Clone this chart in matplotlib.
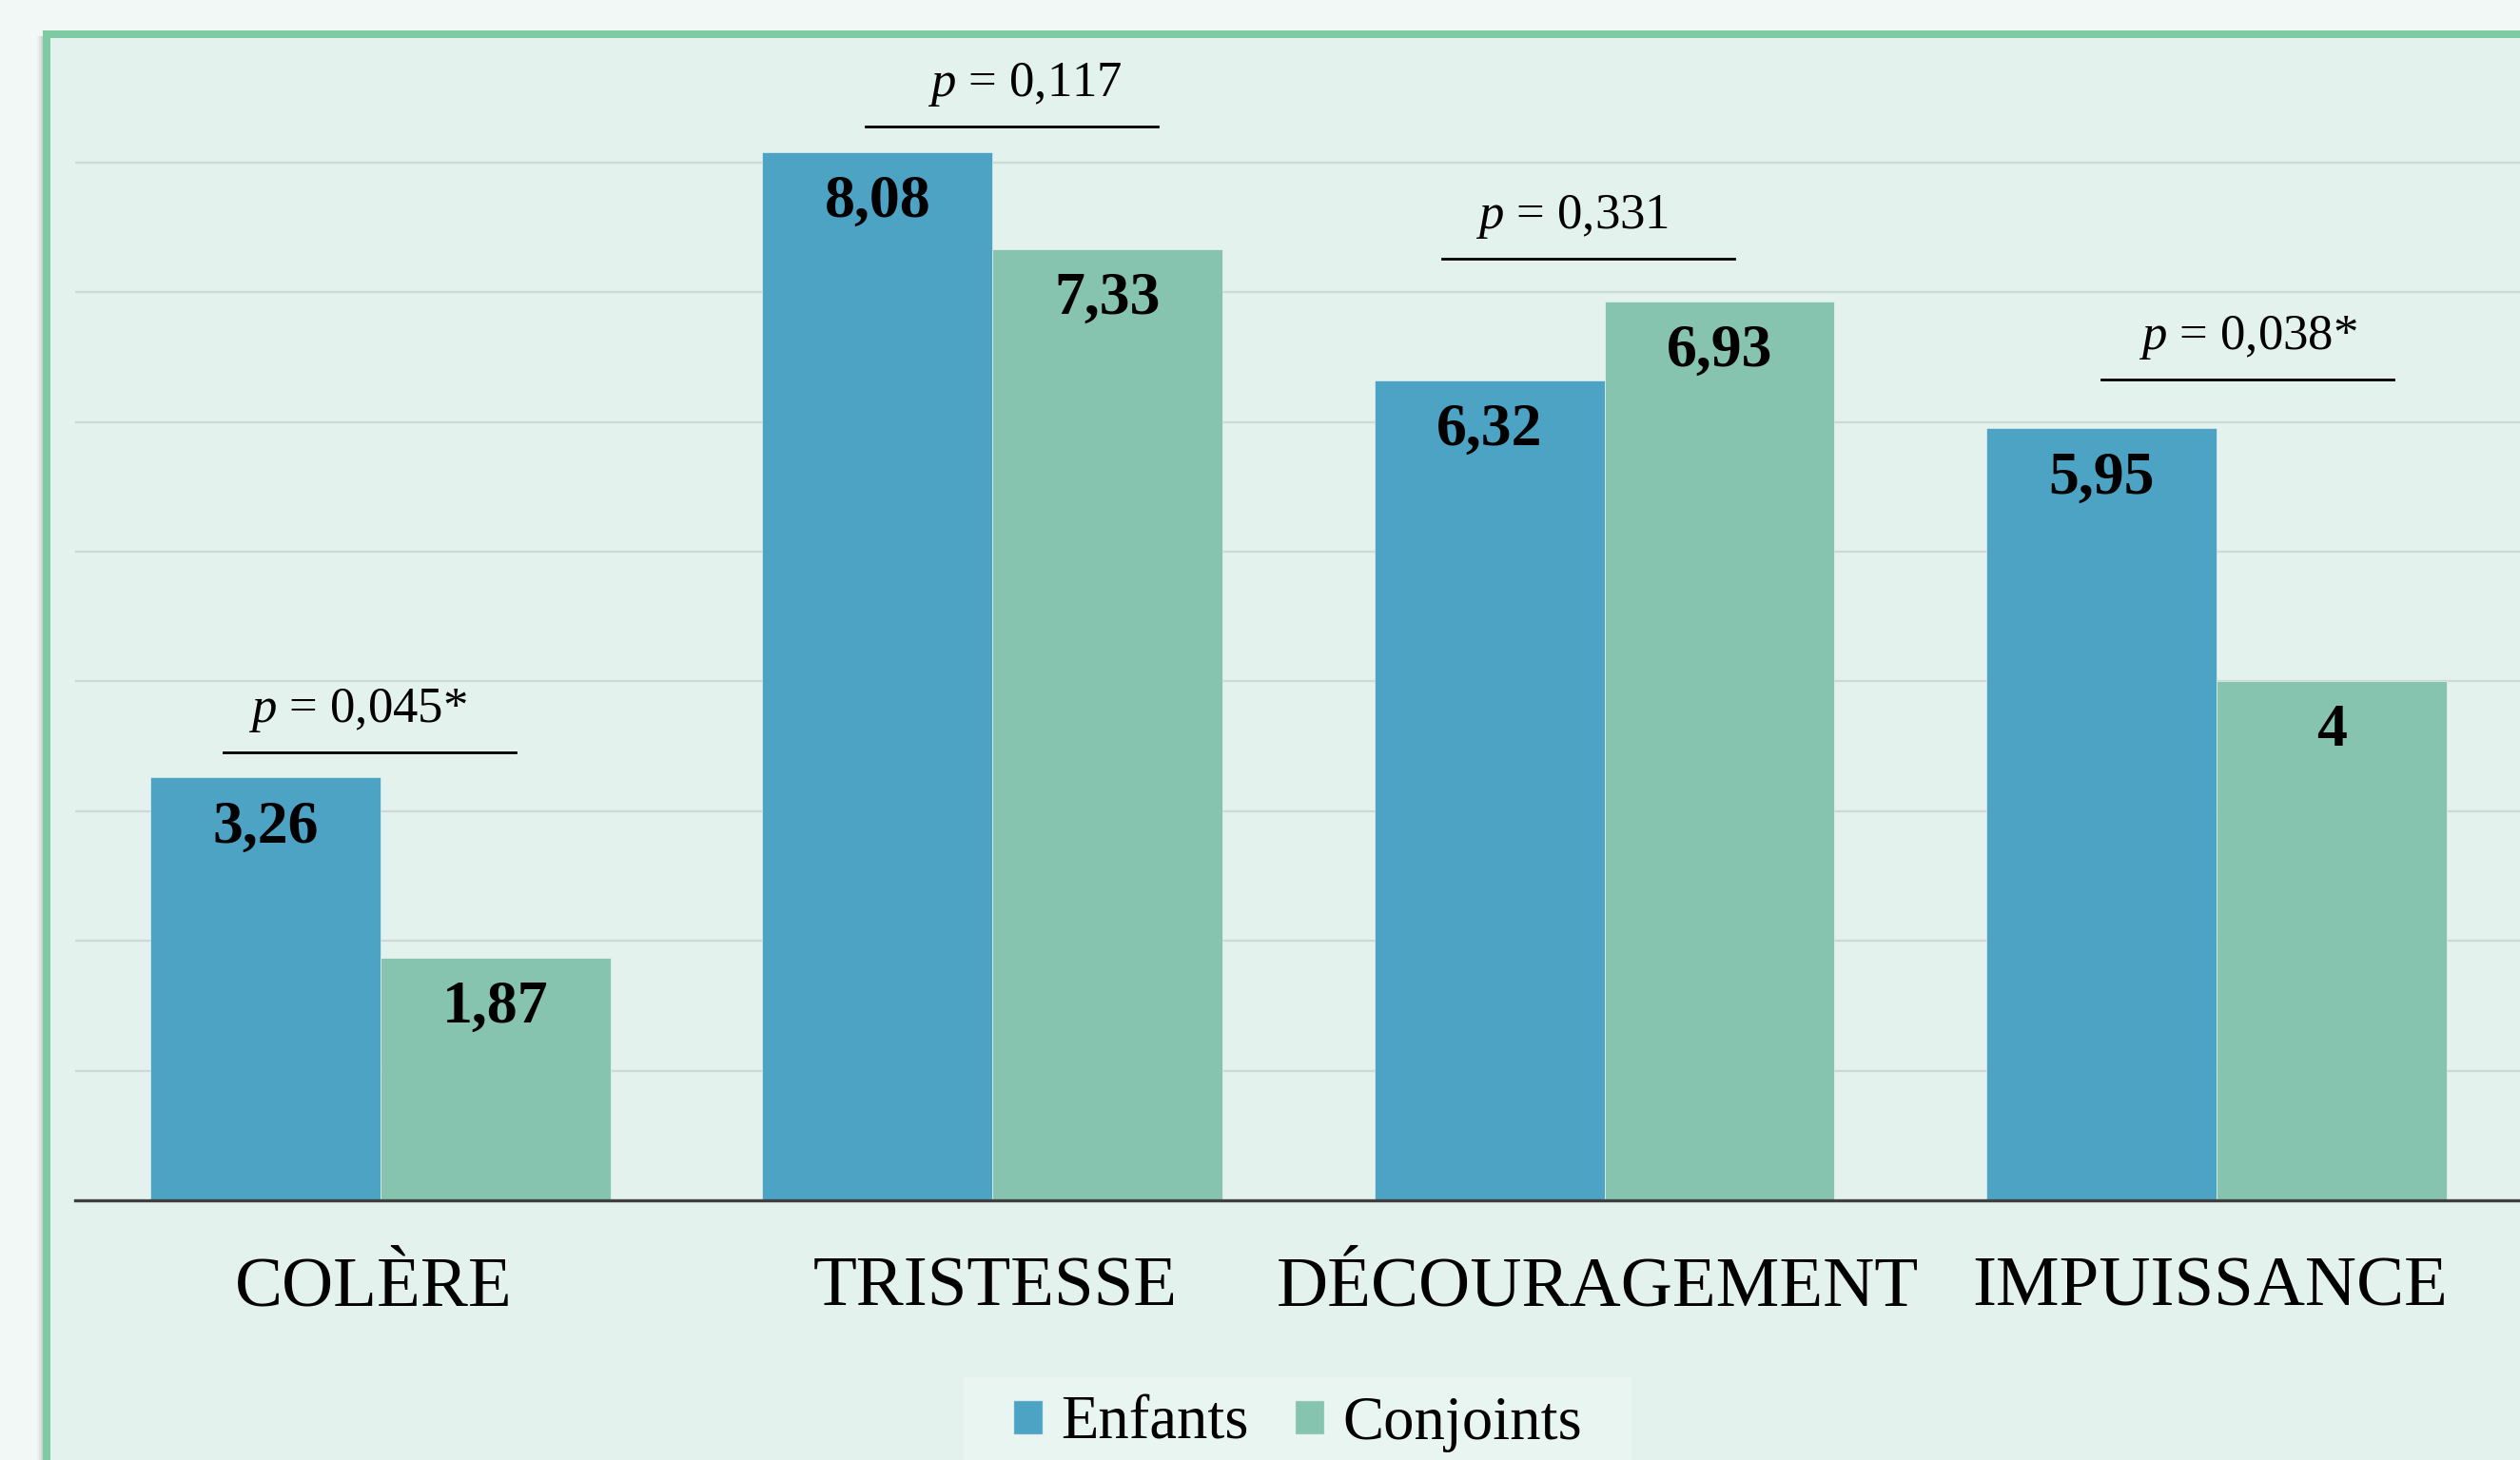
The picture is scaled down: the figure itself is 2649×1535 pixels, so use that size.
import matplotlib
matplotlib.use('Agg')
import matplotlib.pyplot as plt
import numpy as np
from matplotlib.patches import Rectangle, Patch

plt.rcParams['font.family'] = ['Liberation Serif', 'DejaVu Serif']
plt.rcParams['mathtext.fontset'] = 'custom'
plt.rcParams['mathtext.rm'] = 'Liberation Serif'
plt.rcParams['mathtext.it'] = 'Liberation Serif:italic'

# data
categories = ['COLÈRE', 'TRISTESSE', 'DÉCOURAGEMENT', 'IMPUISSANCE']
enfants = [3.26, 8.08, 6.32, 5.95]
conjoints = [1.87, 7.33, 6.93, 4.00]
p_values = ['0,045*', '0,117', '0,331', '0,038*']
series_names = ['Enfants', 'Conjoints']

# layout of the p-value brackets (data units)
p_line_y = [3.45, 8.28, 7.26, 6.33]
p_line_dx = [-0.018, 0.031, -0.026, 0.05]
p_text_dx = [-0.037, 0.053, -0.053, 0.051]
label_dx = [-5, 2, -5, -5]  # points

c_enf = '#4da3c4'
c_conj = '#86c4b0'

W, H = 2649, 1535


def fx(px):
    return px / W


def fy(py):
    return 1 - py / H


def fmt(v):
    return f'{v:g}'.replace('.', ',')


fig = plt.figure(figsize=(W / 100, H / 100), dpi=100)
fig.patch.set_facecolor('#f2f8f6')

# soft shadow left of the panel
for k, a in enumerate([0.06, 0.10, 0.16]):
    fig.patches.append(Rectangle((fx(39 + 2 * k), -0.1), 1.2, fy(38) + 0.1,
                                 transform=fig.transFigure, facecolor='#808080',
                                 alpha=a, edgecolor='none', zorder=-5))
# panel with green border
fig.patches.append(Rectangle((fx(49), -0.1), 1.2, fy(36) + 0.1,
                             transform=fig.transFigure, facecolor='#e3f2ec',
                             edgecolor='#7dcaa3', linewidth=8 * 0.72, zorder=-4))
# legend background
fig.patches.append(Rectangle((fx(1013), -0.1), fx(1715) - fx(1013), fy(1448) + 0.1,
                             transform=fig.transFigure, facecolor='#e9f5f0',
                             edgecolor='none', zorder=-3))

ax = fig.add_axes([fx(79), fy(1262), 1 - fx(79), (1262 - 34.4) / H])
ax.set_facecolor('none')
ax.set_xlim(-0.499, 3.496)
ax.set_ylim(0, 9)
ax.set_yticks(range(1, 9))
ax.yaxis.grid(True, color='#cdd9d4', lw=1.6)
ax.set_axisbelow(True)
ax.tick_params(left=False, labelleft=False, bottom=False, labelbottom=False)
for s in ax.spines.values():
    s.set_visible(False)
ax.axhline(0, color='#404040', lw=2.4, zorder=3, clip_on=False)

x = np.arange(len(categories))
w = 0.376
bars_e = ax.bar(x - w / 2, enfants, w, color=c_enf, edgecolor=(1, 1, 1, 0.5), lw=0.7, zorder=2)
bars_c = ax.bar(x + w / 2, conjoints, w, color=c_conj, edgecolor=(1, 1, 1, 0.5), lw=0.7, zorder=2)

for bars, vals in [(bars_e, enfants), (bars_c, conjoints)]:
    for b, v in zip(bars, vals):
        ax.annotate(fmt(v), xy=(b.get_x() + b.get_width() / 2, v),
                    xytext=(0, -49), textcoords='offset points',
                    ha='center', va='baseline', fontsize=46, fontweight='bold')

# category labels
for i, cat in enumerate(categories):
    ax.annotate(cat, xy=(i, 0), xycoords=('data', 'axes fraction'),
                xytext=(label_dx[i], -79.7), textcoords='offset points',
                ha='center', va='baseline', fontsize=54)

# p-value brackets
L = 0.477
for i, pv in enumerate(p_values):
    cx = i + p_line_dx[i]
    ax.plot([cx - L / 2, cx + L / 2], [p_line_y[i]] * 2, color='black', lw=2,
            clip_on=False, zorder=4)
    ax.annotate('$p$ = ' + pv, xy=(i + p_text_dx[i], p_line_y[i]),
                xytext=(0, 23), textcoords='offset points',
                ha='center', va='baseline', fontsize=38)

handles = [Patch(facecolor=c_enf, edgecolor=(1, 1, 1, 0.6)),
           Patch(facecolor=c_conj, edgecolor=(1, 1, 1, 0.6))]
fig.legend(handles, series_names, loc='center', bbox_to_anchor=(fx(1364), fy(1497)),
           ncol=2, frameon=False, fontsize=46.5, handlelength=0.48, handleheight=0.48,
           handletextpad=0.3, columnspacing=0.75)

fig.savefig('out.png', dpi=100)
